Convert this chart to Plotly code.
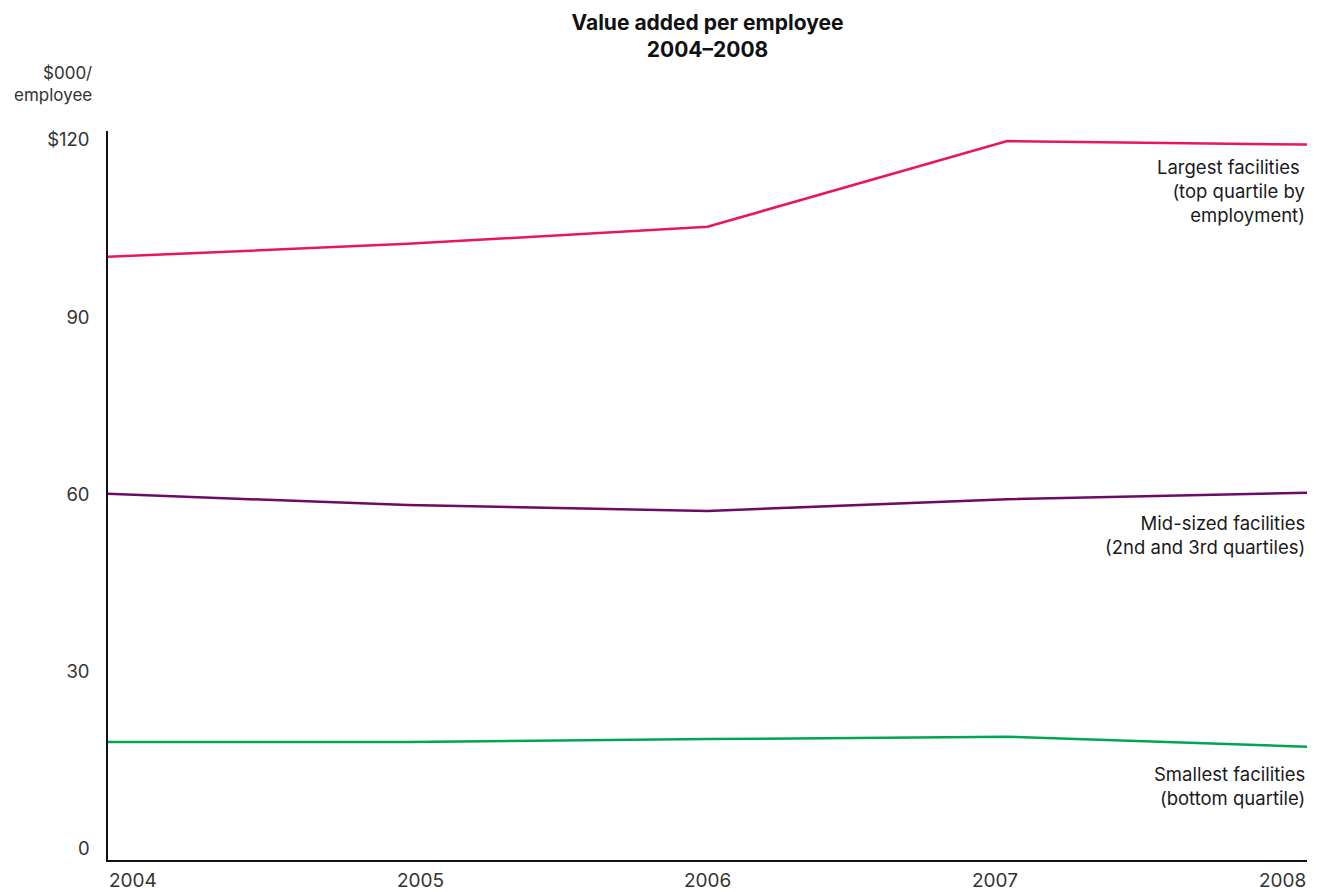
import plotly.graph_objects as go

# Data: value added per employee ($000), 2004-2008
years = [2004, 2005, 2006, 2007, 2008]
largest = [100.2, 102.4, 105.3, 119.8, 119.2]
mid_sized = [60.1, 58.2, 57.2, 59.2, 60.3]
smallest = [18.1, 18.1, 18.6, 19.0, 17.3]

year_labels = ["2004", "2005", "2006", "2007", "2008"]
y_ticks = [0, 30, 60, 90, 120]
y_tick_labels = ["0", "30", "60", "90", "$120"]

series = [
    ("Largest facilities <br>(top quartile by<br>employment)", largest, "#e8175d", 191),
    ("Mid-sized facilities<br>(2nd and 3rd quartiles)", mid_sized, "#6b0b63", 535),
    ("Smallest facilities<br>(bottom quartile)", smallest, "#00a651", 786),
]

FONT = "Inter, Roboto, sans-serif"
TEXT = "#1a1a1a"
W, H = 1324, 892
M_L, M_R, M_T, M_B = 108, 17, 131, 32

fig = go.Figure()
for name, vals, color, _ in series:
    fig.add_trace(go.Scatter(
        x=years, y=vals, mode="lines", name=name,
        line=dict(color=color, width=2.5), cliponaxis=False,
        hoverinfo="x+y",
    ))

annotations = []
# Series labels, right-aligned at the plot's right edge
for name, vals, color, ypx in series:
    annotations.append(dict(
        text=name, xref="paper", yref="paper", x=1.0, xanchor="right",
        y=1 - (ypx - M_T) / (H - M_T - M_B), yanchor="middle",
        align="right", showarrow=False,
        font=dict(family=FONT, size=18.5, color=TEXT),
    ))

# Year labels spread edge to edge below the axis
span = years[-1] - years[0]
label_w = 50 / ((W - M_L - M_R) / span)
n = len(year_labels)
for i, lab in enumerate(year_labels):
    cx = years[0] + label_w / 2 + i * (span - label_w) / (n - 1)
    annotations.append(dict(
        text=lab, xref="x", yref="paper", x=cx, xanchor="center",
        y=0, yanchor="middle", yshift=-20, showarrow=False,
        font=dict(family=FONT, size=19, color="#333333"),
    ))

# Unit label above the y axis
annotations.append(dict(
    text="$000/<br>employee", xref="paper", yref="paper",
    x=0, xanchor="right", xshift=-14, y=1, yanchor="bottom", yshift=24,
    align="right", showarrow=False,
    font=dict(family=FONT, size=17, color="#333333"),
))

fig.update_layout(
    width=W, height=H,
    margin=dict(l=M_L, r=M_R, t=M_T, b=M_B),
    paper_bgcolor="white", plot_bgcolor="white",
    showlegend=False,
    title=dict(
        text="<b>Value added per employee<br>2004–2008</b>",
        x=0.5, xanchor="center", xref="paper", y=1 - 30 / H, yanchor="middle",
        font=dict(family=FONT, size=21, color="#111111"),
    ),
    xaxis=dict(
        range=[years[0], years[-1]], showgrid=False, zeroline=False,
        showticklabels=False, ticks="", showline=True,
        linecolor="#111111", linewidth=1.5,
    ),
    yaxis=dict(
        range=[-1.86, 121.5], tickvals=y_ticks, ticktext=y_tick_labels,
        showgrid=False, zeroline=False, ticks="", ticklabelstandoff=13,
        showline=True, linecolor="#111111", linewidth=1.5,
        tickfont=dict(family=FONT, size=18.5, color="#333333"),
    ),
    annotations=annotations,
)

fig.write_html("out.html")
